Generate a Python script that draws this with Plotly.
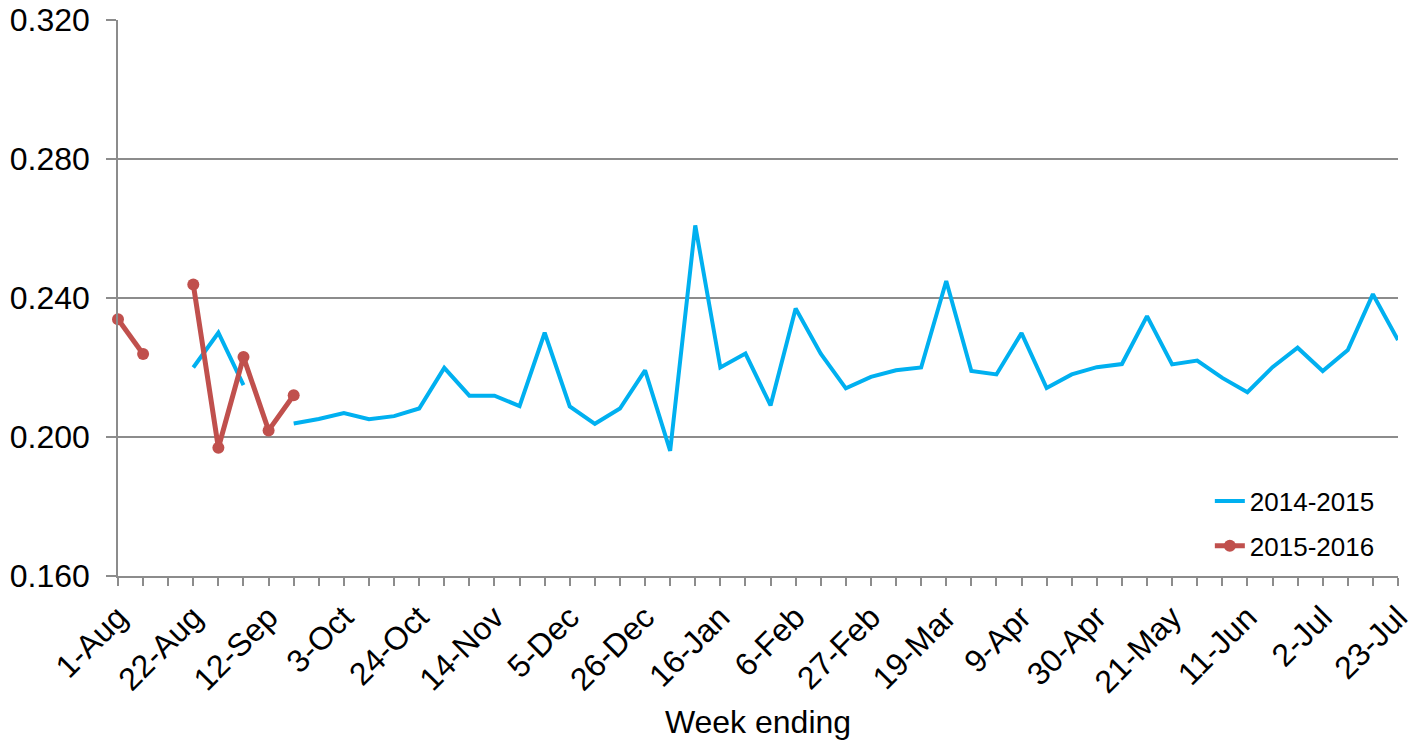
import plotly.graph_objects as go

weeks = ["1-Aug", "8-Aug", "15-Aug", "22-Aug", "29-Aug", "5-Sep", "12-Sep", "19-Sep", "26-Sep",
         "3-Oct", "10-Oct", "17-Oct", "24-Oct", "31-Oct", "7-Nov", "14-Nov", "21-Nov", "28-Nov",
         "5-Dec", "12-Dec", "19-Dec", "26-Dec", "2-Jan", "9-Jan", "16-Jan", "23-Jan", "30-Jan",
         "6-Feb", "13-Feb", "20-Feb", "27-Feb", "5-Mar", "12-Mar", "19-Mar", "26-Mar", "2-Apr",
         "9-Apr", "16-Apr", "23-Apr", "30-Apr", "7-May", "14-May", "21-May", "28-May", "4-Jun",
         "11-Jun", "18-Jun", "25-Jun", "2-Jul", "9-Jul", "16-Jul", "23-Jul"]

s2014_2015 = [None, None, None, 0.2200, 0.2300, 0.2149, None, 0.2039, 0.2052,
              0.2069, 0.2051, 0.2060, 0.2082, 0.2199, 0.2119, 0.2119, 0.2089, 0.2300,
              0.2088, 0.2038, 0.2082, 0.2192, 0.1960, 0.2609, 0.2200, 0.2240, 0.2091,
              0.2370, 0.2240, 0.2140, 0.2173, 0.2192, 0.2200, 0.2449, 0.2190, 0.2180,
              0.2299, 0.2141, 0.2180, 0.2201, 0.2210, 0.2348, 0.2209, 0.2220, 0.2170,
              0.2129, 0.2201, 0.2257, 0.2190, 0.2250, 0.2411, 0.2279]

s2015_2016 = [0.2339, 0.2239, None, 0.2439, 0.1969, 0.2230, 0.2019, 0.2120] + [None] * 44

y_ticks = [0.16, 0.20, 0.24, 0.28, 0.32]

label_every = 3
tick_text = [w if i % label_every == 0 else "" for i, w in enumerate(weeks)]

FONT = "Liberation Sans, Arial, sans-serif"
GRID = "#8c8c8c"

fig = go.Figure()
fig.add_trace(go.Scatter(
    x=weeks, y=s2014_2015, name="2014-2015", mode="lines",
    line=dict(color="#00B0F0", width=4), legendgroup="a", connectgaps=False))
fig.add_trace(go.Scatter(
    x=weeks, y=s2015_2016, name="2015-2016", mode="lines+markers",
    line=dict(color="#C0504D", width=5), marker=dict(size=12, color="#C0504D"),
    legendgroup="b", connectgaps=False, cliponaxis=False))

fig.update_layout(
    width=1421, height=742,
    margin=dict(l=118, r=23, t=20, b=166, autoexpand=False),
    paper_bgcolor="white", plot_bgcolor="white",
    font=dict(family=FONT, size=32, color="black"),
    showlegend=True,
    legend=dict(x=0.853, y=0.177, xanchor="left", yanchor="top",
                font=dict(size=26), bgcolor="rgba(0,0,0,0)",
                tracegroupgap=8, traceorder="grouped"),
    xaxis=dict(
        type="category", range=[0, len(weeks) - 1], automargin=False,
        tickmode="array", tickvals=weeks, ticktext=tick_text,
        tickangle=-45, ticks="outside", ticklen=8, tickcolor=GRID, tickwidth=1.5,
        showline=True, linecolor=GRID, linewidth=1.5, showgrid=False,
        tickfont=dict(size=32),
        title=dict(text="Week ending", font=dict(size=32), standoff=12),
    ),
    yaxis=dict(
        range=[0.16, 0.32], tickmode="array", tickvals=y_ticks, tickformat=".3f",
        automargin=False, ticklabelstandoff=10,
        ticks="outside", ticklen=10, tickcolor=GRID, tickwidth=1.5,
        showline=True, linecolor=GRID, linewidth=1.5,
        showgrid=True, gridcolor=GRID, gridwidth=1.5,
        zeroline=False, tickfont=dict(size=32),
    ),
)

fig.write_html("out.html", config={"displayModeBar": False},
               post_script="document.body.style.margin='0px';")
